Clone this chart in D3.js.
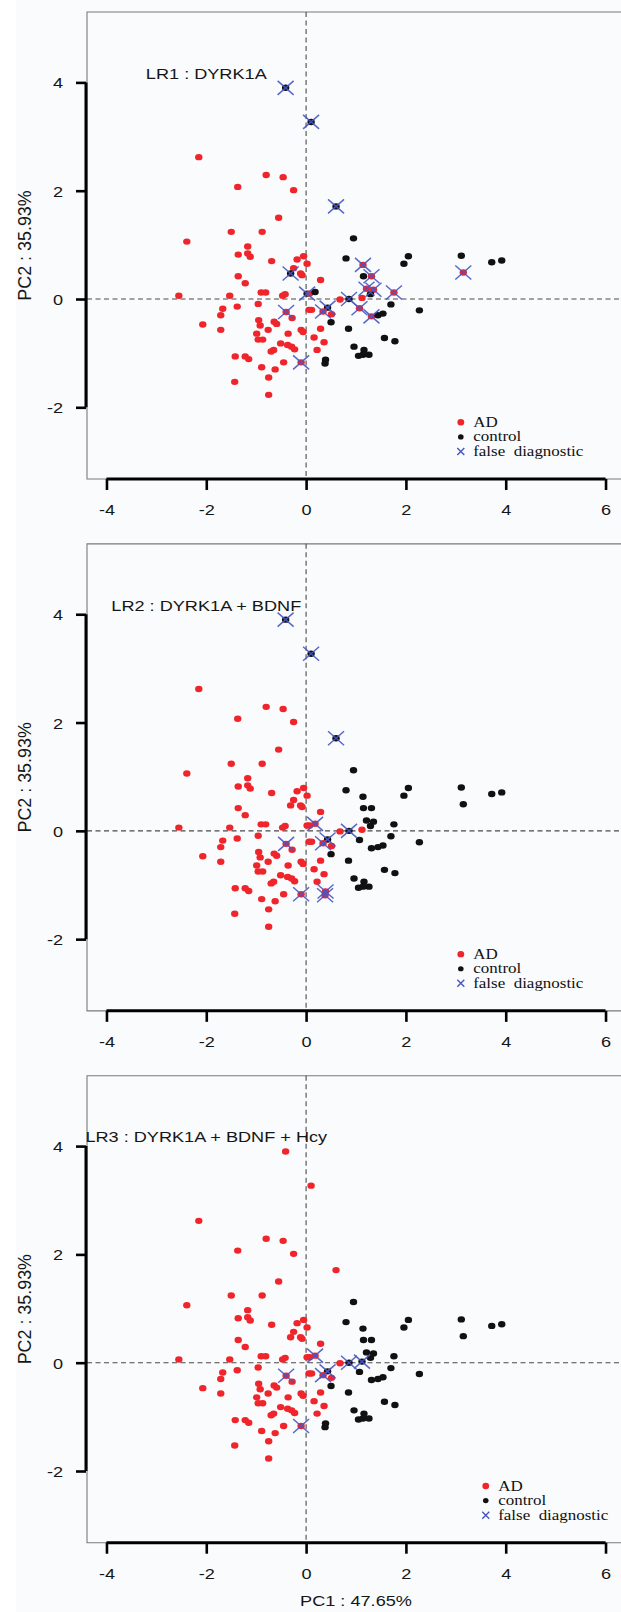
<!DOCTYPE html>
<html>
<head>
<meta charset="utf-8">
<script src="https://cdn.jsdelivr.net/npm/d3@7"></script>
<style>
  html, body { margin: 0; padding: 0; background: #fff; }
  svg { display: block; }
</style>
</head>
<body>
<div id="chart"></div>
<script>
// true AD samples (PC1, PC2)
const adPoints = [
  [-0.41, 3.90], [0.10, 3.27], [-2.15, 2.62], [-0.80, 2.29], [-0.46, 2.25], [-1.37, 2.07],
  [-0.25, 2.01], [0.60, 1.71], [-0.55, 1.50], [-2.39, 1.06], [-1.50, 1.24], [-0.88, 1.24],
  [-1.17, 0.97], [-1.36, 0.82], [-1.17, 0.84], [-1.12, 0.78], [-0.69, 0.70], [-0.18, 0.73],
  [-0.05, 0.79], [0.02, 0.65], [-0.25, 0.57], [-0.31, 0.47], [-0.11, 0.47], [-0.08, 0.44],
  [-1.36, 0.42], [0.29, 0.35], [-1.22, 0.29], [-2.55, 0.06], [-1.53, 0.06], [-0.90, 0.12],
  [-0.81, 0.12], [-0.47, 0.06], [-0.42, 0.09], [0.02, 0.10], [0.07, 0.10], [0.68, -0.01],
  [-1.67, -0.18], [-1.71, -0.30], [-1.38, -0.14], [-0.96, -0.09], [-2.07, -0.47], [-1.71, -0.57],
  [-0.95, -0.39], [-0.92, -0.49], [-0.64, -0.42], [-0.59, -0.46], [-0.28, -0.35], [-0.76, -0.57],
  [-0.99, -0.64], [-0.96, -0.75], [-0.87, -0.75], [-0.36, -0.64], [-0.10, -0.57], [-0.06, -0.61],
  [0.06, -0.20], [0.11, -0.20], [0.29, -0.55], [0.16, -0.71], [0.36, -0.80], [-0.51, -0.82],
  [-0.37, -0.85], [-0.29, -0.88], [-0.23, -0.93], [-0.70, -0.97], [-0.65, -0.94], [0.22, -0.94],
  [-0.45, -1.17], [-1.42, -1.06], [-1.22, -1.06], [-1.15, -1.11], [-0.89, -1.26], [-0.62, -1.30],
  [-1.43, -1.53], [-0.75, -1.45], [-0.75, -1.77], [0.51, -0.28], [0.86, 0.00], [1.12, 0.02],
  [0.43, -0.16]
];

// true control samples
const controlPoints = [
  [0.95, 1.12], [0.80, 0.75], [2.05, 0.79], [1.96, 0.65], [3.11, 0.80], [3.15, 0.49],
  [3.72, 0.68], [3.92, 0.71], [1.14, 0.63], [1.15, 0.42], [1.31, 0.42], [1.21, 0.19],
  [1.35, 0.17], [1.29, 0.09], [1.76, 0.12], [1.70, -0.10], [1.07, -0.17], [1.31, -0.32],
  [1.44, -0.30], [1.54, -0.27], [2.27, -0.21], [0.50, -0.43], [0.85, -0.55], [1.57, -0.72],
  [1.78, -0.78], [0.96, -0.88], [1.16, -0.94], [1.05, -1.05], [1.14, -1.03], [1.26, -1.03],
  [0.39, -1.12], [0.38, -1.19], [0.18, 0.13], [-0.40, -0.24], [0.34, -0.23], [-0.10, -1.17]
];

const panelTitles = ["LR1 : DYRK1A", "LR2 : DYRK1A + BDNF", "LR3 : DYRK1A + BDNF + Hcy"];

// misclassified samples for each model
const falseDiagnostic = [
  [[-0.41, 3.90], [0.10, 3.27], [0.60, 1.71], [-0.31, 0.47], [0.02, 0.10], [-0.40, -0.24],
   [0.34, -0.23], [0.43, -0.16], [-0.10, -1.17], [0.86, 0.00], [1.14, 0.63], [1.31, 0.42],
   [1.21, 0.19], [1.35, 0.17], [1.76, 0.12], [1.07, -0.17], [1.31, -0.32], [3.15, 0.49]],
  [[-0.41, 3.90], [0.10, 3.27], [0.60, 1.71], [0.18, 0.13], [0.86, 0.00], [-0.40, -0.24],
   [0.34, -0.23], [0.43, -0.16], [-0.10, -1.17], [0.39, -1.12], [0.38, -1.19]],
  [[0.18, 0.13], [-0.40, -0.24], [0.34, -0.23], [0.43, -0.16], [0.86, 0.00], [1.12, 0.02],
   [-0.10, -1.17]]
];

const xTicks = [-4, -2, 0, 2, 4, 6];
const yTicks = [-2, 0, 2, 4];
const legendLabels = ["AD", "control", "false  diagnostic"];
const xLabel = "PC1 : 47.65%";
const yLabel = "PC2 : 35.93%";

const width = 621, height = 1612;
const panelStep = 531.85;
const sx = 1.17;  // the original figure is stretched horizontally
const red = "#f0252b", black = "#111", blue = "#4656c4";
const ink = "#161616";
const sans = "'Liberation Sans', Arial, sans-serif";
const serif = "'Liberation Serif', 'Times New Roman', serif";

const x = d3.scaleLinear().domain([-4.39, 6.39]).range([87, 625]);
const y = d3.scaleLinear().domain([-3.324, 5.30]).range([479, 12]);

const svg = d3.select("#chart").append("svg")
  .attr("width", width).attr("height", height);

svg.append("rect").attr("x", 16).attr("y", 0)
  .attr("width", width - 16).attr("height", height).attr("fill", "#fafbfc");

const key = p => p[0].toFixed(2) + "," + p[1].toFixed(2);
const samples = adPoints.map(p => ({ p, ad: true }))
  .concat(controlPoints.map(p => ({ p, ad: false })));

panelTitles.forEach((title, i) => {
  const g = svg.append("g").attr("transform", `translate(0,${i * panelStep})`);
  const wrong = new Set(falseDiagnostic[i].map(key));

  // box
  g.append("path")
    .attr("d", `M${x.range()[1]},${y(y.domain()[1])}H${x(x.domain()[0])}V${y(y.domain()[0])}H${x.range()[1]}`)
    .attr("fill", "none").attr("stroke", "#7a7a7a").attr("stroke-width", 1.1);

  // reference lines
  g.append("line").attr("x1", x(0)).attr("x2", x(0))
    .attr("y1", y(y.domain()[1])).attr("y2", y(y.domain()[0]))
    .attr("stroke", "#4a4a4a").attr("stroke-width", 1.1).attr("stroke-dasharray", "5,3.5");
  g.append("line").attr("x1", x(x.domain()[0])).attr("x2", x.range()[1])
    .attr("y1", y(0)).attr("y2", y(0))
    .attr("stroke", "#4a4a4a").attr("stroke-width", 1.1).attr("stroke-dasharray", "5,3.5");

  // points, coloured by predicted class
  g.append("g").selectAll("ellipse")
    .data(samples)
    .join("ellipse")
    .attr("cx", d => x(d.p[0]))
    .attr("cy", d => y(d.p[1]))
    .attr("rx", 3.7).attr("ry", 3.2)
    .attr("fill", d => (d.ad !== wrong.has(key(d.p))) ? red : black);

  // false diagnostic crosses
  g.append("g").selectAll("path")
    .data(falseDiagnostic[i])
    .join("path")
    .attr("transform", d => `translate(${x(d[0])},${y(d[1])})`)
    .attr("d", "M-8,-7L8,7M-8,7L8,-7")
    .attr("stroke", blue).attr("stroke-width", 1.5).attr("stroke-opacity", 0.9)
    .attr("fill", "none");

  // x axis
  const xAxis = g.append("g").attr("transform", `translate(0,${y(y.domain()[0])})`)
    .call(d3.axisBottom(x).tickValues(xTicks).tickSize(11).tickSizeOuter(0));
  xAxis.select(".domain").remove();
  xAxis.append("line").attr("x1", x(xTicks[0])).attr("x2", x(xTicks[xTicks.length - 1]))
    .attr("stroke", "#000").attr("stroke-width", 3);
  xAxis.selectAll(".tick line").attr("stroke", "#000").attr("stroke-width", 2.6);
  xAxis.selectAll(".tick text")
    .attr("y", 36.5).attr("dy", 0)
    .attr("transform", `scale(${sx},1)`)
    .attr("font-family", sans).attr("font-size", 15.5).attr("fill", ink)
    .text(d => d);

  // y axis
  const yAxis = g.append("g").attr("transform", `translate(86,0)`)
    .call(d3.axisLeft(y).tickValues(yTicks).tickSize(10).tickSizeOuter(0));
  yAxis.select(".domain").remove();
  yAxis.append("line").attr("y1", y(yTicks[0])).attr("y2", y(yTicks[yTicks.length - 1]))
    .attr("stroke", "#000").attr("stroke-width", 3);
  yAxis.selectAll(".tick line").attr("stroke", "#000").attr("stroke-width", 2.6);
  yAxis.selectAll(".tick text")
    .attr("x", -23 / sx).attr("dy", 0).attr("y", 5.5)
    .attr("transform", `scale(${sx},1)`)
    .attr("font-family", sans).attr("font-size", 15.5).attr("fill", ink)
    .text(d => d);

  // y title
  g.append("text")
    .attr("transform", `translate(24,${(y.range()[0] + y.range()[1]) / 2}) rotate(-90) scale(1.155,${sx})`)
    .attr("dy", "0.36em")
    .attr("text-anchor", "middle")
    .attr("font-family", sans).attr("font-size", 15.5).attr("fill", ink)
    .text(yLabel);

  // model title
  g.append("text")
    .attr("transform", `translate(${x(-2)},${y(4.17) + 5.5}) scale(${sx},1)`)
    .attr("text-anchor", "middle")
    .attr("font-family", sans).attr("font-size", 15.5).attr("fill", ink)
    .text(title);

  // legend
  const lx = x(i === 2 ? 3.6 : 3.1);
  const ly = y(0) + 123.3;
  const leg = g.append("g").selectAll("g")
    .data(legendLabels)
    .join("g")
    .attr("transform", (d, j) => `translate(${lx},${ly + j * 14.6})`);
  leg.filter((d, j) => j === 0).append("ellipse").attr("rx", 3.4).attr("ry", 3.2).attr("fill", red);
  leg.filter((d, j) => j === 1).append("ellipse").attr("rx", 2.8).attr("ry", 2.6).attr("fill", black);
  leg.filter((d, j) => j === 2).append("path").attr("d", "M-3.5,-3.5L3.5,3.5M-3.5,3.5L3.5,-3.5")
    .attr("stroke", blue).attr("stroke-width", 1.4);
  leg.append("text")
    .attr("transform", `translate(12.4,4.5) scale(${sx},1)`)
    .attr("font-family", serif).attr("font-size", 14.5).attr("fill", "#111")
    .style("white-space", "pre")
    .text(d => d);
});

// x title
svg.append("text")
  .attr("transform", `translate(${(x.range()[0] + x.range()[1]) / 2},1606) scale(${sx},1)`)
  .attr("text-anchor", "middle")
  .attr("font-family", sans).attr("font-size", 15.5).attr("fill", ink)
  .text(xLabel);
</script>
</body>
</html>
